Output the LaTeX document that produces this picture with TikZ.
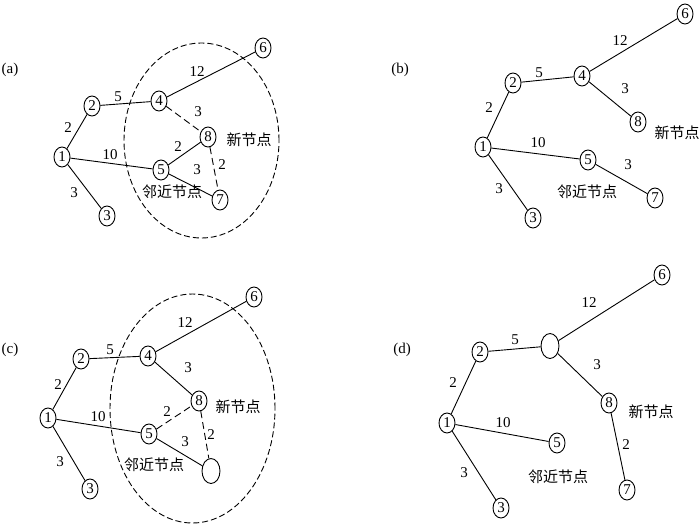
\documentclass[tikz,border=0pt]{standalone}
\usepackage{fontspec}
\setmainfont{Liberation Serif}
\newfontfamily\cjk{Noto Sans CJK SC}
\usetikzlibrary{shapes.geometric}
\begin{document}
\begin{tikzpicture}[x=1pt,y=-1pt,
  nd/.style={draw,ellipse,inner sep=0pt,minimum width=16pt,minimum height=20pt,font=\fontsize{15}{15}\selectfont,line width=0.9pt},
  big/.style={nd,minimum width=18pt,minimum height=25pt},
  lb/.style={font=\fontsize{15}{15}\selectfont,inner sep=0pt},
  cn/.style={font=\cjk\fontsize{15}{15}\selectfont,inner sep=0pt},
  ed/.style={line width=0.9pt},
  dsh/.style={line width=0.9pt,dash pattern=on 7pt off 4pt},
  circ/.style={line width=0.9pt,dash pattern=on 6pt off 3pt}]
\useasboundingbox (0,0) rectangle (700,525);
% ---------------- (a)
\node[lb] (ta) at (10,70) {(a)};
\draw[circ] (201.5,140.5) ellipse [x radius=77.5pt,y radius=97.5pt];
\node[nd] (a1) at (62,157) {1};
\node[nd] (a2) at (92,106) {2};
\node[nd] (a3) at (107,216) {3};
\node[nd] (a4) at (159,101) {4};
\node[nd] (a5) at (161,170) {5};
\node[nd] (a6) at (263,48) {6};
\node[nd] (a7) at (220,200) {7};
\node[nd] (a8) at (208,137) {8};
\draw[ed] (a1)--(a2); \draw[ed] (a2)--(a4); \draw[ed] (a4)--(a6);
\draw[ed] (a1)--(a5); \draw[ed] (a5)--(a8); \draw[ed] (a5)--(a7);
\draw[ed] (a1)--(a3);
\draw[dsh] (a4)--(a8); \draw[dsh] (a8)--(a7);
\node[lb] (la46) at (197,72) {12};
\node[lb] (la24) at (118,97) {5};
\node[lb] (la48) at (198,112) {3};
\node[lb] (la12) at (68,128) {2};
\node[lb] (la15) at (110,155) {10};
\node[lb] (la58) at (178,147) {2};
\node[lb] (la57) at (197,170) {3};
\node[lb] (la87) at (222,165) {2};
\node[lb] (la13) at (74,193) {3};
\node[cn] (na) at (249,140) {新节点};
\node[cn] (ma) at (172,192) {邻近节点};
% ---------------- (b)
\node[lb] (tb) at (400,70) {(b)};
\node[nd] (b1) at (483,147) {1};
\node[nd] (b2) at (513,83) {2};
\node[nd] (b3) at (533,218) {3};
\node[nd] (b4) at (582,76) {4};
\node[nd] (b5) at (588,160) {5};
\node[nd] (b6) at (685,14) {6};
\node[nd] (b7) at (655,198) {7};
\node[nd] (b8) at (638,122) {8};
\draw[ed] (b1)--(b2); \draw[ed] (b2)--(b4); \draw[ed] (b4)--(b6);
\draw[ed] (b4)--(b8); \draw[ed] (b1)--(b5); \draw[ed] (b5)--(b7);
\draw[ed] (b1)--(b3);
\node[lb] (lb46) at (620,41) {12};
\node[lb] (lb24) at (539,73) {5};
\node[lb] (lb48) at (625,89) {3};
\node[lb] (lb12) at (489,108) {2};
\node[lb] (lb15) at (538,143) {10};
\node[lb] (lb57) at (628,165) {3};
\node[lb] (lb13) at (499,189) {3};
\node[cn] (nb) at (677,133) {新节点};
\node[cn] (mb) at (587,192) {邻近节点};
% ---------------- (c)
\node[lb] (tc) at (10,350) {(c)};
\draw[circ] (192.5,408.5) ellipse [x radius=82.5pt,y radius=114.5pt];
\node[nd] (c1) at (48,418) {1};
\node[nd] (c2) at (81,359) {2};
\node[nd] (c3) at (90,489) {3};
\node[nd] (c4) at (148,356) {4};
\node[nd] (c5) at (149,434) {5};
\node[nd] (c6) at (254,297) {6};
\node[big] (c7) at (211,471) {};
\node[nd] (c8) at (199,401) {8};
\draw[ed] (c1)--(c2); \draw[ed] (c2)--(c4); \draw[ed] (c4)--(c6);
\draw[ed] (c4)--(c8); \draw[ed] (c1)--(c5); \draw[ed] (c5)--(c7);
\draw[ed] (c1)--(c3);
\draw[dsh] (c5)--(c8); \draw[dsh] (c8)--(c7);
\node[lb] (lc46) at (185,323) {12};
\node[lb] (lc24) at (110,350) {5};
\node[lb] (lc48) at (188,368) {3};
\node[lb] (lc12) at (58,385) {2};
\node[lb] (lc15) at (98,417) {10};
\node[lb] (lc58) at (167,412) {2};
\node[lb] (lc57) at (185,442) {3};
\node[lb] (lc87) at (211,435) {2};
\node[lb] (lc13) at (60,462) {3};
\node[cn] (nc) at (238,407) {新节点};
\node[cn] (mc) at (154,465) {邻近节点};
% ---------------- (d)
\node[lb] (td) at (402,350) {(d)};
\node[nd] (d1) at (447,423) {1};
\node[nd] (d2) at (480,352) {2};
\node[nd] (d3) at (501,508) {3};
\node[big] (d4) at (550,346) {};
\node[nd] (d5) at (557,443) {5};
\node[nd] (d6) at (662,275) {6};
\node[nd] (d7) at (627,490) {7};
\node[nd] (d8) at (609,403) {8};
\draw[ed] (d1)--(d2); \draw[ed] (d2)--(d4); \draw[ed] (d4)--(d6);
\draw[ed] (d4)--(d8); \draw[ed] (d8)--(d7); \draw[ed] (d1)--(d5);
\draw[ed] (d1)--(d3);
\node[lb] (ld46) at (589,303) {12};
\node[lb] (ld24) at (515,340) {5};
\node[lb] (ld48) at (597,365) {3};
\node[lb] (ld12) at (453,383) {2};
\node[lb] (ld15) at (503,423) {10};
\node[lb] (ld87) at (626,445) {2};
\node[lb] (ld13) at (464,473) {3};
\node[cn] (nd8) at (651,412) {新节点};
\node[cn] (md) at (558,477) {邻近节点};
\end{tikzpicture}
\end{document}
